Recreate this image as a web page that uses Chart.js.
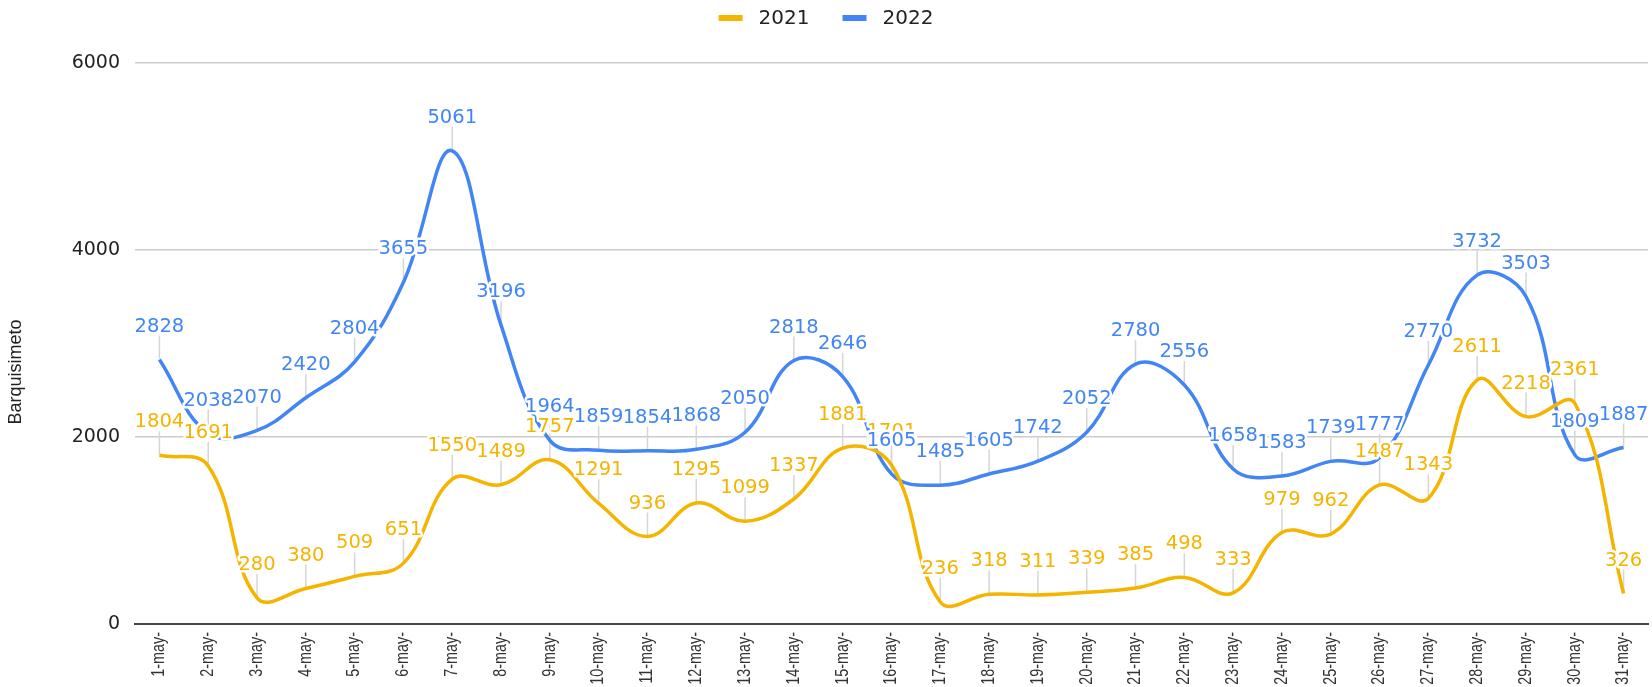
<!DOCTYPE html>
<html><head><meta charset="utf-8">
<script src="https://cdn.jsdelivr.net/npm/chart.js@4.4.0/dist/chart.umd.min.js"></script>
<style>html,body{margin:0;padding:0;background:#fff;overflow:hidden}#wrap{width:1652px;height:687px;position:relative}</style>
</head><body><div id="wrap"><canvas id="c" width="1652" height="687"></canvas></div>
<script>
const categories = ['1-may-','2-may-','3-may-','4-may-','5-may-','6-may-','7-may-','8-may-','9-may-','10-may-','11-may-','12-may-','13-may-','14-may-','15-may-','16-may-','17-may-','18-may-','19-may-','20-may-','21-may-','22-may-','23-may-','24-may-','25-may-','26-may-','27-may-','28-may-','29-may-','30-may-','31-may-'];
const series2021 = [1804,1691,280,380,509,651,1550,1489,1757,1291,936,1295,1099,1337,1881,1701,236,318,311,339,385,498,333,979,962,1487,1343,2611,2218,2361,326];
const series2022 = [2828,2038,2070,2420,2804,3655,5061,3196,1964,1859,1854,1868,2050,2818,2646,1605,1485,1605,1742,2052,2780,2556,1658,1583,1739,1777,2770,3732,3503,1809,1887];
const seriesNames = ['2021','2022'];
const yTicks = [0,2000,4000,6000];
const axisTitle = 'Barquisimeto';

const YELLOW = '#F4B400';
const BLUE = '#4285F4';
const LABEL_FONT = '19.5px "DejaVu Sans"';

const leaderPlugin = {
  id: 'leaders',
  beforeDatasetsDraw(chart) {
    const ctx = chart.ctx;
    ctx.save();
    ctx.strokeStyle = '#d6d6d6';
    ctx.lineWidth = 1.5;
    chart.data.datasets.forEach((ds, i) => {
      chart.getDatasetMeta(i).data.forEach(pt => {
        ctx.beginPath();
        ctx.moveTo(pt.x, pt.y - 1);
        ctx.lineTo(pt.x, pt.y - 24);
        ctx.stroke();
      });
    });
    ctx.restore();
  }
};

const labelPlugin = {
  id: 'valueLabels',
  afterDatasetsDraw(chart) {
    const ctx = chart.ctx;
    ctx.save();
    ctx.font = LABEL_FONT;
    ctx.textAlign = 'center';
    ctx.textBaseline = 'middle';
    ctx.lineJoin = 'round';
    chart.data.datasets.forEach((ds, i) => {
      chart.getDatasetMeta(i).data.forEach((pt, j) => {
        const t = String(ds.data[j]);
        const y = pt.y - 33;
        ctx.strokeStyle = '#ffffff';
        ctx.lineWidth = 5;
        ctx.strokeText(t, pt.x, y);
        ctx.fillStyle = ds.borderColor;
        ctx.fillText(t, pt.x, y);
      });
    });
    ctx.restore();
  }
};

const xLabelPlugin = {
  id: 'xLabels',
  afterDraw(chart) {
    const ctx = chart.ctx;
    const xs = chart.scales.x;
    const top = chart.chartArea.bottom + 8;
    ctx.save();
    ctx.font = '17.5px "Liberation Sans"';
    ctx.fillStyle = '#333';
    ctx.textAlign = 'right';
    ctx.textBaseline = 'middle';
    chart.data.labels.forEach((lab, i) => {
      const x = xs.getPixelForValue(i);
      ctx.save();
      ctx.translate(x, top);
      ctx.rotate(-Math.PI / 2);
      ctx.scale(0.82, 1);
      ctx.fillText(lab, 0, 0);
      ctx.restore();
    });
    ctx.restore();
  }
};

const legendPlugin = {
  id: 'customLegend',
  afterDraw(chart) {
    const ctx = chart.ctx;
    ctx.save();
    ctx.font = '20px "DejaVu Sans"';
    ctx.textBaseline = 'middle';
    const sw = 24, gap = 16, spacing = 33, cy = 18;
    const items = chart.data.datasets.map(ds => ({label: ds.label, color: ds.borderColor, w: ctx.measureText(ds.label).width}));
    let total = 0;
    items.forEach((it, k) => { total += sw + gap + it.w + (k ? spacing : 0); });
    let x = chart.width / 2 - total / 2;
    items.forEach(it => {
      ctx.fillStyle = it.color;
      ctx.fillRect(x, cy - 3, sw, 6);
      x += sw + gap;
      ctx.fillStyle = '#222';
      ctx.fillText(it.label, x, cy + 1);
      x += it.w + spacing;
    });
    // y axis title
    ctx.translate(16, 372);
    ctx.rotate(-Math.PI / 2);
    ctx.textAlign = 'center';
    ctx.font = '18px "Liberation Sans"';
    ctx.fillStyle = '#222';
    ctx.fillText(axisTitle, 0, 0);
    ctx.restore();
  }
};

new Chart(document.getElementById('c'), {
  type: 'line',
  data: {
    labels: categories,
    datasets: [
      {label: seriesNames[0], data: series2021, borderColor: YELLOW, backgroundColor: YELLOW, borderWidth: 3.5, pointRadius: 0, tension: 0.4, fill: false},
      {label: seriesNames[1], data: series2022, borderColor: BLUE, backgroundColor: BLUE, borderWidth: 3.5, pointRadius: 0, tension: 0.4, fill: false}
    ]
  },
  options: {
    responsive: false,
    animation: false,
    devicePixelRatio: 1,
    layout: {padding: {top: 63, right: 4, left: 0, bottom: 0}},
    plugins: {legend: {display: false}, tooltip: {enabled: false}, title: {display: false}},
    scales: {
      x: {
        offset: true,
        grid: {display: false, drawTicks: false},
        border: {display: true, color: '#444', width: 2},
        ticks: {display: false, autoSkip: false},
        afterFit(s) { s.height = 63; }
      },
      y: {
        min: 0, max: 6000,
        afterBuildTicks(s) { s.ticks = yTicks.map(v => ({value: v})); },
        grid: {color: c => c.tick && c.tick.value === 0 ? '#444' : '#cccccc', lineWidth: c => c.tick && c.tick.value === 0 ? 2 : 1.5, drawTicks: false},
        border: {display: false},
        ticks: {padding: 15, color: '#222', font: {family: 'DejaVu Sans', size: 19}, callback: v => String(v)},
        afterFit(s) { s.width = 135; }
      }
    }
  },
  plugins: [leaderPlugin, labelPlugin, xLabelPlugin, legendPlugin]
});
</script></body></html>
